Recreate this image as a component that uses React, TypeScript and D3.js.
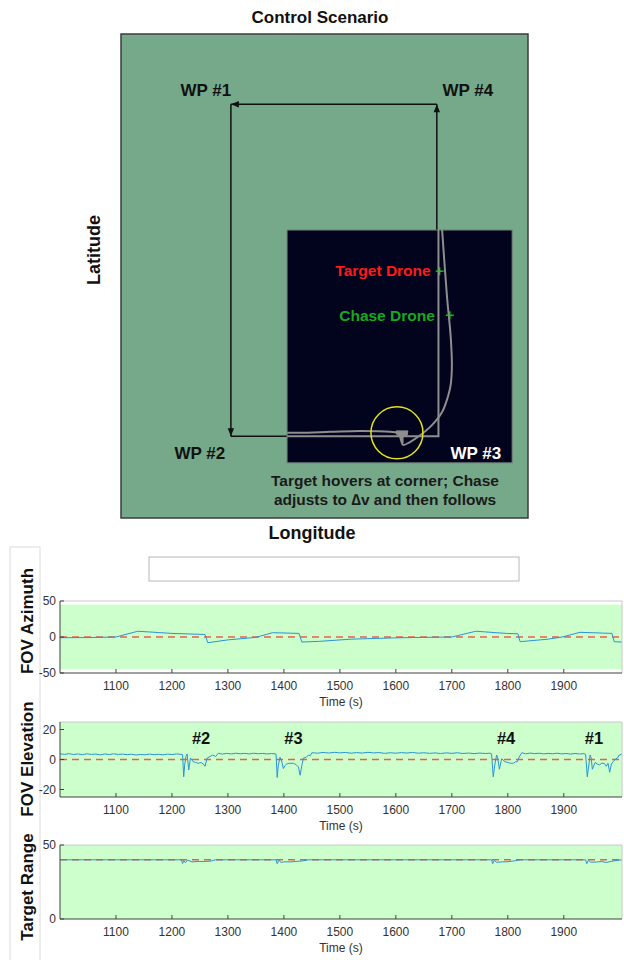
import React from "react";
import { scaleLinear, line, curveCatmullRom } from "d3";

type Pt = [number, number];

// time axis shared by the three lower panels
const timeDomain: Pt = [1000, 2004];
const timeTicks = [1100, 1200, 1300, 1400, 1500, 1600, 1700, 1800, 1900];

const azimuthTicks = [-50, 0, 50];
const elevationTicks = [-20, 0, 20];
const rangeTicks = [0, 50];

const azimuthBand: Pt = [-45, 45];
const azimuthRef = 0;
const elevationRef = 0;
const rangeRef = 40;

// FOV azimuth (deg) vs time (s)
const azimuthData: Pt[] = [
  [1000, -1], [1050, -0.8], [1100, 0], [1139, 8], [1200, 5], [1259, 3.5],
  [1264, -8], [1300, -4], [1350, -0.5], [1380, 6], [1427, 5], [1432, -7],
  [1464, -6], [1520, -3], [1607, -1], [1700, 0], [1743, 8], [1797, 5],
  [1818, 4.5], [1822, -6.5], [1872, -3], [1897, 0], [1929, 6.5], [1986, 5],
  [1990, -6.5], [2004, -7],
];

// FOV elevation (deg) vs time (s)
const elevationData: Pt[] = [
  [1000, 3.8], [1008, 3.4], [1016, 3.9], [1024, 3.3], [1032, 3.7], [1040, 3.2],
  [1048, 3.8], [1056, 3.4], [1064, 3.6], [1072, 3.1], [1080, 3.7], [1088, 3.3],
  [1096, 3.8], [1104, 3.4], [1112, 3.6], [1120, 3.2], [1128, 3.5], [1136, 3.0],
  [1144, 3.4], [1152, 3.1], [1160, 3.6], [1168, 3.2], [1176, 3.5], [1184, 3.1],
  [1192, 3.6], [1200, 3.3], [1208, 3.7], [1216, 3.4],
  [1219, 3.2], [1221, -11.5], [1223, -3], [1225, 2], [1227, 3.7], [1230, -7],
  [1233, 1], [1238, -1.5], [1242, -2], [1247, -2.5], [1252, -2], [1256, -3],
  [1259, -4.5], [1263, 1], [1268, 2], [1273, 3], [1278, 2], [1283, 4.2],
  [1290, 3.6], [1298, 4.1], [1306, 3.7], [1314, 4.2], [1322, 3.8], [1330, 4.1],
  [1338, 3.7], [1346, 4.2], [1354, 3.8], [1362, 4.1], [1370, 3.7], [1378, 4.0],
  [1384, 3.8],
  [1386, 3.5], [1388, -12], [1390, -4], [1393, 1.5], [1396, -1], [1399, -6],
  [1402, -4], [1405, -3], [1410, -2.5], [1417, -2.5], [1422, -3.5], [1426, -5],
  [1429, -10.5], [1432, -4], [1435, 1], [1440, 1.5], [1444, 3], [1447, 2.5],
  [1450, 4.5],
  [1460, 4.2], [1470, 4.7], [1480, 4.3], [1490, 4.8], [1500, 4.4], [1510, 4.7],
  [1520, 4.2], [1530, 4.6], [1540, 4.3], [1550, 4.8], [1560, 4.4], [1570, 4.6],
  [1580, 4.1], [1590, 4.5], [1600, 4.2], [1610, 4.6], [1620, 4.3], [1630, 4.7],
  [1640, 4.2], [1650, 4.5], [1660, 4.1], [1670, 4.4], [1680, 4.0], [1690, 4.4],
  [1700, 4.1], [1710, 4.5], [1720, 4.0], [1730, 4.3], [1740, 3.9], [1750, 4.3],
  [1760, 4.0], [1768, 4.2],
  [1771, 3.8], [1774, -11.5], [1777, -3], [1780, 3], [1782, 1], [1785, -6.5],
  [1789, 0.5], [1795, -1.5], [1800, -2], [1805, -2.5], [1810, -2.5], [1814, -1.5],
  [1817, -1.5], [1820, 1.5], [1825, 4.5],
  [1832, 3.8], [1840, 4.3], [1848, 3.9], [1856, 4.2], [1864, 3.7], [1872, 4.1],
  [1880, 3.8], [1888, 4.2], [1896, 3.7], [1904, 4.0], [1912, 3.6], [1920, 4.0],
  [1928, 3.7], [1936, 3.9],
  [1939, 3.5], [1942, -11.5], [1945, -3], [1947, 3], [1949, 1], [1951, -6.5],
  [1956, -2], [1960, -3], [1964, -3.5], [1968, -2.5], [1972, -2.5], [1976, -4.5],
  [1979, -2.5], [1982, -8.5], [1985, -3], [1988, -1.5], [1993, 0.5], [1996, 1],
  [1999, 3], [2004, 3.5],
];

// target range (m) vs time (s)
const rangeData: Pt[] = [
  [1000, 40], [1217, 40], [1219, 37.5], [1221, 39.6], [1224, 38], [1228, 39.8],
  [1236, 38.6], [1250, 38.9], [1262, 38.9], [1270, 39.2], [1278, 40],
  [1386, 40], [1388, 37.4], [1391, 39.7], [1395, 38.2], [1400, 38.6], [1412, 38.6],
  [1425, 39], [1435, 39.3], [1443, 40],
  [1771, 40], [1773, 37.4], [1776, 39.6], [1780, 38.3], [1790, 38.6], [1800, 38.7],
  [1810, 39.2], [1816, 39.5], [1822, 40],
  [1939, 40], [1941, 37.4], [1944, 39.7], [1948, 38.4], [1958, 38.5], [1968, 38.8],
  [1976, 38.2], [1988, 39.2], [1996, 39.6], [2004, 40],
];

// waypoint markers on the elevation panel
const eventLabels = [
  { label: "#2", t: 1252 },
  { label: "#3", t: 1417 },
  { label: "#4", t: 1797 },
  { label: "#1", t: 1954 },
];
const eventLabelValue = 10.3;

// map, in normalised longitude / latitude units (0..100)
const waypoints = [
  { name: "WP #1", lon: 27.0, lat: 85.5 },
  { name: "WP #2", lon: 27.0, lat: 16.9 },
  { name: "WP #3", lon: 77.6, lat: 16.9 },
  { name: "WP #4", lon: 77.6, lat: 85.5 },
];
const routeOrder = ["WP #4", "WP #1", "WP #2", "WP #3", "WP #4"];
const routeArrows = [true, true, false, true];

const insetBounds = { lon0: 40.8, lon1: 96.1, lat0: 11.4, lat1: 59.5 };

const targetTrack: Pt[] = [[78.0, 59.5], [78.0, 16.9], [40.8, 16.9]];
const chaseTrack: Pt[] = [
  [78.9, 59.5], [80.1, 45.7], [81.0, 37.5], [81.3, 31.5], [81.0, 27.5],
  [80.3, 25.0], [78.9, 21.9], [76.4, 19.2], [73.5, 17.1], [71.0, 15.7],
  [69.3, 15.1], [68.8, 16.1], [68.3, 17.4], [66.1, 17.8], [58.7, 18.0],
  [51.4, 17.8], [44.0, 17.6], [40.8, 17.6],
];
const hoverBlob: Pt[] = [
  [67.6, 18.0], [70.5, 18.0], [70.3, 17.1], [69.3, 16.9], [69.3, 15.5],
  [68.6, 16.7], [67.6, 17.4],
];
const hoverCircle = { lon: 67.8, lat: 17.6 };
const targetMarker = { lon: 78.3, lat: 51.0 };
const chaseMarker = { lon: 80.8, lat: 41.9 };

const FONT = "'Liberation Sans', Arial, Helvetica, sans-serif";

const wpLabelOffset: Record<string, Pt> = {
  "WP #1": [-25, -8],
  "WP #4": [31, -8],
  "WP #2": [-31, 23],
  "WP #3": [39, 23],
};

function Panel({ data, refValue, domain, band, ticks, top, bottom, xTime, id, children }: any) {
  const y = scaleLinear().domain(domain).range([bottom, top]);
  const [x0, x1] = xTime.range();
  const path = line<Pt>()
    .x((d) => xTime(d[0]))
    .y((d) => y(d[1]));
  return (
    <g>
      <defs>
        <clipPath id={id}>
          <rect x={x0} y={top} width={x1 - x0} height={bottom - top} />
        </clipPath>
      </defs>
      <rect x={x0} y={y(band[1])} width={x1 - x0} height={y(band[0]) - y(band[1])} fill="#ccffcc" />
      <g clipPath={`url(#${id})`}>
        <line x1={x0} x2={x1} y1={y(refValue)} y2={y(refValue)} stroke="#e8604c" strokeWidth={1.5} strokeDasharray="7,5" />
        <path d={path(data) || ""} fill="none" stroke="#2b93d6" strokeWidth={1} />
      </g>
      <line x1={x0} x2={x1} y1={top} y2={top} stroke="#c8c8c8" strokeWidth={1} />
      <line x1={x1} x2={x1} y1={top} y2={bottom} stroke="#c8c8c8" strokeWidth={1} />
      <line x1={x0} x2={x1} y1={bottom} y2={bottom} stroke="#404040" strokeWidth={1} />
      <line x1={x0} x2={x0} y1={top} y2={bottom} stroke="#404040" strokeWidth={1} />
      {timeTicks.map((t: number) => (
        <g key={t}>
          <line x1={xTime(t)} x2={xTime(t)} y1={bottom} y2={bottom - 4} stroke="#404040" />
          <text x={xTime(t)} y={bottom + 17} textAnchor="middle" fontSize={12} fill="#333" fontFamily={FONT}>
            {t}
          </text>
        </g>
      ))}
      {ticks.map((v: number) => (
        <g key={v}>
          <line x1={x0} x2={x0 + 4} y1={y(v)} y2={y(v)} stroke="#404040" />
          <text x={x0 - 4} y={y(v)} dy="0.35em" textAnchor="end" fontSize={12} fill="#333" fontFamily={FONT}>
            {v}
          </text>
        </g>
      ))}
      <text x={(x0 + x1) / 2} y={bottom + 33} textAnchor="middle" fontSize={12} fill="#333" fontFamily={FONT}>
        Time (s)
      </text>
      {children && children(y)}
    </g>
  );
}

export default function App() {
  const lonScale = scaleLinear().domain([0, 100]).range([121, 528]);
  const latScale = scaleLinear().domain([0, 100]).range([518, 34]);
  const xTime = scaleLinear().domain(timeDomain).range([60, 622]);
  const mapLine = line<Pt>()
    .x((d) => lonScale(d[0]))
    .y((d) => latScale(d[1]));
  const smoothLine = line<Pt>()
    .x((d) => lonScale(d[0]))
    .y((d) => latScale(d[1]))
    .curve(curveCatmullRom);

  const wp = (name: string) => waypoints.find((w) => w.name === name)!;
  const segments = routeOrder.slice(1).map((name, i) => ({ from: wp(routeOrder[i]), to: wp(name), arrow: routeArrows[i] }));

  const ix0 = lonScale(insetBounds.lon0);
  const ix1 = lonScale(insetBounds.lon1);
  const iy0 = latScale(insetBounds.lat1);
  const iy1 = latScale(insetBounds.lat0);

  const tx = lonScale(targetMarker.lon);
  const ty = latScale(targetMarker.lat);
  const cx = lonScale(chaseMarker.lon);
  const cy = latScale(chaseMarker.lat);

  const panels = [
    { label: "FOV Azimuth", labelY: 621, data: azimuthData, refValue: azimuthRef, domain: [-50, 50], band: azimuthBand, ticks: azimuthTicks, top: 601, bottom: 673 },
    { label: "FOV Elevation", labelY: 759, data: elevationData, refValue: elevationRef, domain: [-25, 25], band: [-25, 25], ticks: elevationTicks, top: 722, bottom: 797 },
    { label: "Target Range", labelY: 887, data: rangeData, refValue: rangeRef, domain: [0, 50], band: [0, 50], ticks: rangeTicks, top: 845, bottom: 919 },
  ];

  return (
    <svg width={624} height={960} style={{ position: "absolute", left: 0, top: 0, background: "#fff" }} fontFamily={FONT}>
      <defs>
        <marker id="arrowHead" viewBox="0 0 10 10" refX="10" refY="5" markerWidth="9" markerHeight="8" markerUnits="userSpaceOnUse" orient="auto">
          <path d="M0,1 L10,5 L0,9 z" fill="#111" />
        </marker>
      </defs>

      {/* map */}
      <text x={320} y={23} textAnchor="middle" fontSize={17} fontWeight="bold" fill="#111">
        Control Scenario
      </text>
      <rect x={lonScale(0)} y={latScale(100)} width={lonScale(100) - lonScale(0)} height={latScale(0) - latScale(100)} fill="#76a98a" stroke="#3c3c3c" strokeWidth={1.5} />
      {segments.map((s, i) => (
        <line
          key={i}
          x1={lonScale(s.from.lon)}
          y1={latScale(s.from.lat)}
          x2={lonScale(s.to.lon)}
          y2={latScale(s.to.lat)}
          stroke="#111"
          strokeWidth={1.5}
          markerEnd={s.arrow ? "url(#arrowHead)" : undefined}
        />
      ))}
      <rect x={ix0} y={iy0} width={ix1 - ix0} height={iy1 - iy0} fill="#02031c" stroke="#6f7f78" strokeWidth={1} />
      <path d={mapLine(targetTrack) || ""} fill="none" stroke="#8e8e8e" strokeWidth={2} />
      <path d={smoothLine(chaseTrack) || ""} fill="none" stroke="#8e8e8e" strokeWidth={2} />
      <path d={(mapLine(hoverBlob) || "") + "Z"} fill="#8e8e8e" stroke="#8e8e8e" strokeWidth={1} />
      <circle cx={lonScale(hoverCircle.lon)} cy={latScale(hoverCircle.lat)} r={26} fill="none" stroke="#e3e31a" strokeWidth={1.5} />

      <text x={tx - 9} y={ty + 5} textAnchor="end" fontSize={15.5} fontWeight="bold" fill="#ff1a1a">
        Target Drone
      </text>
      <text x={cx - 15} y={cy + 6} textAnchor="end" fontSize={15.5} fontWeight="bold" fill="#19a819">
        Chase Drone
      </text>
      {[[tx, ty], [cx, cy]].map(([px, py], i) => (
        <g key={i} stroke="#19d219" strokeWidth={1.3}>
          <line x1={px - 4} x2={px + 4} y1={py} y2={py} />
          <line x1={px} x2={px} y1={py - 4} y2={py + 4} />
        </g>
      ))}

      {waypoints.map((w) => {
        const [dx, dy] = wpLabelOffset[w.name];
        return (
          <text key={w.name} x={lonScale(w.lon) + dx} y={latScale(w.lat) + dy} textAnchor="middle" fontSize={17} fontWeight="bold" fill={w.name === "WP #3" ? "#fff" : "#111"}>
            {w.name}
          </text>
        );
      })}

      <text x={385} y={486} textAnchor="middle" fontSize={15.5} fontWeight="bold" fill="#1a1a1a">
        Target hovers at corner; Chase
      </text>
      <text x={385} y={505} textAnchor="middle" fontSize={15.5} fontWeight="bold" fill="#1a1a1a">
        adjusts to ∆v and then follows
      </text>
      <text x={312} y={539} textAnchor="middle" fontSize={18} fontWeight="bold" fill="#111">
        Longitude
      </text>
      <text transform="translate(100,250) rotate(-90)" textAnchor="middle" fontSize={18} fontWeight="bold" fill="#111">
        Latitude
      </text>

      {/* time-series panels */}
      <rect x={10} y={547} width={30} height={420} fill="#fff" stroke="#dcdcdc" strokeWidth={1} />
      <rect x={149} y={557} width={370} height={24} fill="#fff" stroke="#b8b8b8" strokeWidth={1} />

      {panels.map((p, i) => (
        <g key={p.label}>
          <Panel id={`clip${i}`} xTime={xTime} {...p}>
            {i === 1
              ? (y: any) =>
                  eventLabels.map((e) => (
                    <text key={e.label} x={xTime(e.t)} y={y(eventLabelValue)} textAnchor="middle" fontSize={16.5} fontWeight="bold" fill="#111">
                      {e.label}
                    </text>
                  ))
              : null}
          </Panel>
          <text transform={`translate(33,${p.labelY}) rotate(-90)`} textAnchor="middle" fontSize={17} fontWeight="bold" fill="#111">
            {p.label}
          </text>
        </g>
      ))}
    </svg>
  );
}
